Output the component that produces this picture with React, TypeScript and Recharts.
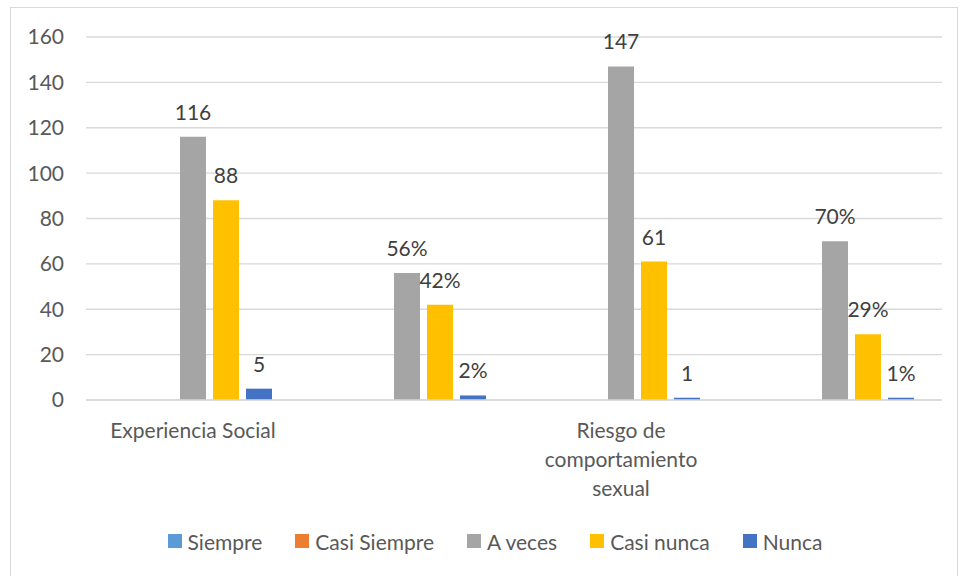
import React from "react";
import { BarChart, Bar, XAxis, YAxis, CartesianGrid, Legend, LabelList } from "recharts";

const categories = ["Experiencia Social", "", "Riesgo de comportamiento sexual", ""];
const siempre = [0, 0, 0, 0];
const casiSiempre = [0, 0, 0, 0];
const aVeces = [116, 56, 147, 70];
const casiNunca = [88, 42, 61, 29];
const nunca = [5, 2, 1, 1];
const aVecesLabels = ["116", "56%", "147", "70%"];
const casiNuncaLabels = ["88", "42%", "61", "29%"];
const nuncaLabels = ["5", "2%", "1", "1%"];
const yTicks = [0, 20, 40, 60, 80, 100, 120, 140, 160];

const series = [
  { key: "siempre", name: "Siempre", color: "#5B9BD5" },
  { key: "casiSiempre", name: "Casi Siempre", color: "#ED7D31" },
  { key: "aVeces", name: "A veces", color: "#A5A5A5", label: "aVecesLabel" },
  { key: "casiNunca", name: "Casi nunca", color: "#FFC000", label: "casiNuncaLabel" },
  { key: "nunca", name: "Nunca", color: "#4472C4", label: "nuncaLabel" },
];

const data = categories.map((c, i) => ({
  category: c,
  siempre: siempre[i],
  casiSiempre: casiSiempre[i],
  aVeces: aVeces[i],
  casiNunca: casiNunca[i],
  nunca: nunca[i],
  aVecesLabel: aVecesLabels[i],
  casiNuncaLabel: casiNuncaLabels[i],
  nuncaLabel: nuncaLabels[i],
}));

const FONT = "Lato, 'Open Sans', sans-serif";
const FS = 21;

let measureCtx: CanvasRenderingContext2D | null = null;
function measure(s: string): number {
  if (!measureCtx && typeof document !== "undefined") {
    measureCtx = document.createElement("canvas").getContext("2d");
  }
  if (!measureCtx) return s.length * FS * 0.5;
  measureCtx.font = `${FS}px Lato`;
  return measureCtx.measureText(s).width;
}

function wrap(text: string, maxWidth: number): string[] {
  const words = String(text || "").split(" ").filter(Boolean);
  const lines: string[] = [];
  let cur = "";
  for (const w of words) {
    const next = cur ? cur + " " + w : w;
    if (cur && measure(next) > maxWidth) {
      lines.push(cur);
      cur = w;
    } else {
      cur = next;
    }
  }
  if (cur) lines.push(cur);
  return lines;
}

const XTick = (props: any) => {
  const { x, y, payload } = props;
  const lines = wrap(payload.value, 180);
  return (
    <text x={x} y={y} textAnchor="middle" fill="#595959" fontSize={FS} fontFamily={FONT}>
      {lines.map((l, i) => (
        <tspan key={i} x={x} y={y + 30 + i * 29}>
          {l}
        </tspan>
      ))}
    </text>
  );
};

const LegendContent = () => (
  <div
    style={{
      display: "flex",
      justifyContent: "center",
      alignItems: "center",
      height: 30,
      fontFamily: FONT,
      fontSize: FS,
      color: "#595959",
      gap: 33,
      paddingLeft: 48,
    }}
  >
    {series.map((s) => (
      <div key={s.key} style={{ display: "flex", alignItems: "center" }}>
        <span style={{ display: "inline-block", width: 14, height: 14, background: s.color, marginRight: 6 }} />
        <span>{s.name}</span>
      </div>
    ))}
  </div>
);

export default function App() {
  return (
    <div style={{ position: "absolute", left: 0, top: 0, width: 961, height: 576, background: "#fff" }}>
      <div
        style={{
          position: "absolute",
          left: 10,
          top: 7,
          width: 946,
          height: 570,
          border: "1px solid #d9d9d9",
        }}
      />
      <div style={{ position: "absolute", left: 0, top: 0 }}>
        <BarChart
          width={961}
          height={576}
          data={data}
          margin={{ top: 37, right: 19, left: 0, bottom: 20 }}
          barSize={26}
          barGap={7}
        >
          <CartesianGrid horizontal vertical={false} stroke="#d9d9d9" strokeWidth={1.3} />
          <XAxis
            dataKey="category"
            axisLine={{ stroke: "#d9d9d9", strokeWidth: 1.5 }}
            tickLine={false}
            height={126}
            interval={0}
            tick={<XTick />}
          />
          <YAxis
            domain={[0, 160]}
            ticks={yTicks}
            axisLine={false}
            tickLine={false}
            tickSize={0}
            tickMargin={22}
            width={86}
            tick={{ fill: "#595959", fontSize: FS, fontFamily: FONT }}
          />
          <Legend verticalAlign="bottom" content={<LegendContent />} />
          {series.map((s) => (
            <Bar key={s.key} dataKey={s.key} name={s.name} fill={s.color} isAnimationActive={false}>
              {s.label ? (
                <LabelList
                  dataKey={s.label}
                  position="top"
                  offset={17}
                  fill="#404040"
                  fontSize={FS}
                  fontFamily={FONT}
                />
              ) : null}
            </Bar>
          ))}
        </BarChart>
      </div>
    </div>
  );
}
